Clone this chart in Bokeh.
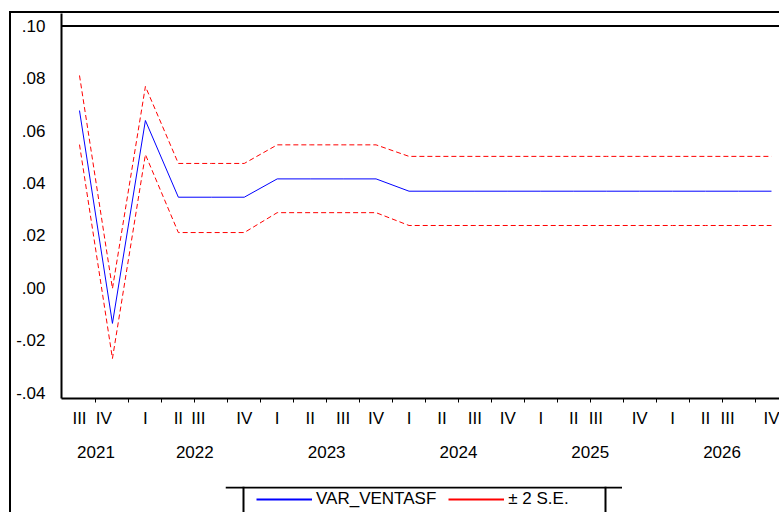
import numpy as np
from bokeh.plotting import figure
from bokeh.layouts import column
from bokeh.models import (FixedTicker, CustomJSTickFormatter, LinearAxis, Span,
                          Legend, LegendItem, ColumnDataSource, Range1d)
from bokeh.embed import file_html
from bokeh.resources import INLINE

# ---------------- data ----------------
years = ["2021", "2021",
         "2022", "2022", "2022", "2022",
         "2023", "2023", "2023", "2023",
         "2024", "2024", "2024", "2024",
         "2025", "2025", "2025", "2025",
         "2026", "2026", "2026", "2026"]
quarters = ["III", "IV",
            "I", "II", "III", "IV",
            "I", "II", "III", "IV",
            "I", "II", "III", "IV",
            "I", "II", "III", "IV",
            "I", "II", "III", "IV"]
forecast = [0.0677, -0.0136, 0.0639, 0.0346, 0.0346, 0.0346,
            0.0416, 0.0416, 0.0416, 0.0416,
            0.0369, 0.0369, 0.0369, 0.0369, 0.0369, 0.0369,
            0.0369, 0.0369, 0.0369, 0.0369, 0.0369, 0.0369]
upper = [0.0811, -0.0003, 0.0769, 0.0475, 0.0475, 0.0475,
         0.0546, 0.0546, 0.0546, 0.0546,
         0.0502, 0.0502, 0.0502, 0.0502, 0.0502, 0.0502,
         0.0502, 0.0502, 0.0502, 0.0502, 0.0502, 0.0502]
lower = [0.0547, -0.0270, 0.0509, 0.0211, 0.0211, 0.0211,
         0.0287, 0.0287, 0.0287, 0.0287,
         0.0238, 0.0238, 0.0238, 0.0238, 0.0238, 0.0238,
         0.0238, 0.0238, 0.0238, 0.0238, 0.0238, 0.0238]
y_ticks = [-0.04, -0.02, 0.00, 0.02, 0.04, 0.06, 0.08, 0.10]
series_names = ["VAR_VENTASF", "± 2 S.E."]

# ---------------- layout helpers ----------------
FONT = "Liberation Sans"
FS = "17px"
x = list(range(len(quarters)))
label_nudge = {1: -0.26, 4: -0.39, 16: -0.33, 20: -0.33}
q_pos = [i + label_nudge.get(i, 0.0) for i in x]
uniq_years = []
for yv in years:
    if yv not in uniq_years:
        uniq_years.append(yv)
year_pos = [sum(i for i in x if years[i] == yv) / years.count(yv) for yv in uniq_years]
minor_ticks = [i + 0.5 for i in x[:-1]]

# ---------------- main chart ----------------
p = figure(width=768, height=473, output_backend="svg", toolbar_location=None,
           x_range=Range1d(-0.5462, 21.243), y_range=Range1d(-0.042284, 0.104775),
           min_border_left=50, min_border_right=0, min_border_top=0, min_border_bottom=88,
           x_axis_location=None, y_axis_location=None)
p.xgrid.visible = False
p.ygrid.visible = False
p.outline_line_color = None
p.background_fill_color = "white"
p.border_fill_color = "white"

yax = LinearAxis(ticker=FixedTicker(ticks=y_ticks),
                 formatter=CustomJSTickFormatter(code="return tick.toFixed(2).replace('0.', '.');"))
yax.axis_line_width = 2
yax.axis_line_color = "black"
yax.major_tick_out = 0
yax.major_tick_in = 0
yax.minor_tick_out = 0
yax.minor_tick_in = 0
yax.major_label_standoff = 16
yax.major_label_text_font = FONT
yax.major_label_text_font_size = FS
yax.major_label_text_color = "black"
p.add_layout(yax, "left")

ax2 = LinearAxis(ticker=FixedTicker(ticks=q_pos, minor_ticks=minor_ticks),
                 formatter=CustomJSTickFormatter(args=dict(labels=quarters),
                                                 code="return labels[index];"))
ax2.axis_line_width = 2
ax2.axis_line_color = "black"
ax2.major_tick_line_color = None
ax2.major_tick_out = 4
ax2.major_tick_in = 0
ax2.minor_tick_out = 4
ax2.minor_tick_in = 0
ax2.minor_tick_line_color = "black"
ax2.minor_tick_line_width = 1
ax2.major_label_standoff = 6
ax2.major_label_text_font = FONT
ax2.major_label_text_font_size = FS
ax2.major_label_text_color = "black"
p.add_layout(ax2, "below")

ax3 = LinearAxis(ticker=FixedTicker(ticks=year_pos),
                 formatter=CustomJSTickFormatter(args=dict(labels=uniq_years),
                                                 code="return labels[index];"))
ax3.axis_line_color = None
ax3.major_tick_line_color = None
ax3.minor_tick_line_color = None
ax3.major_tick_out = 0
ax3.major_tick_in = 0
ax3.major_label_standoff = 15
ax3.major_label_text_font = FONT
ax3.major_label_text_font_size = FS
ax3.major_label_text_color = "black"
p.add_layout(ax3, "below")

p.add_layout(Span(location=y_ticks[-1], dimension="width", line_color="black", line_width=2))

src = ColumnDataSource(dict(x=x, forecast=forecast, upper=upper, lower=lower))
p.line("x", "upper", source=src, line_color="#FF0000", line_width=1, line_dash="5 3")
p.line("x", "lower", source=src, line_color="#FF0000", line_width=1, line_dash="5 3")
p.line("x", "forecast", source=src, line_color="#0000FF", line_width=1)

# ---------------- legend strip (own small figure, pixel units) ----------------
# the column aligns frame borders with the main chart (left border 50 px)
p2 = figure(width=447, height=26, output_backend="svg", toolbar_location=None,
            x_range=Range1d(0, 397), y_range=Range1d(26, 0),
            min_border_left=50, min_border_right=0, min_border_top=0, min_border_bottom=0,
            x_axis_location=None, y_axis_location=None)
p2.xgrid.visible = False
p2.ygrid.visible = False
p2.outline_line_color = None
p2.background_fill_color = "white"
p2.border_fill_color = "white"
p2.styles = {"margin-left": "164px"}
p2.add_layout(Span(location=1, dimension="width", line_color="black", line_width=2))
p2.add_layout(Span(location=18, dimension="height", line_color="black", line_width=2))
p2.add_layout(Span(location=380, dimension="height", line_color="black", line_width=2))

nan_src = ColumnDataSource(dict(x=np.array([np.nan]), y=np.array([np.nan])))
rb = p2.line("x", "y", source=nan_src, line_color="#0000FF", line_width=2)
rr = p2.line("x", "y", source=nan_src, line_color="#FF0000", line_width=2)
legend = Legend(items=[LegendItem(label=series_names[0], renderers=[rb]),
                       LegendItem(label=series_names[1], renderers=[rr])],
                location=(31, 3), orientation="horizontal",
                glyph_width=56, glyph_height=20, label_height=20,
                label_standoff=4, spacing=12,
                padding=0, margin=0, border_line_color=None,
                background_fill_color=None,
                label_text_font=FONT, label_text_font_size=FS, label_text_color="black")
p2.add_layout(legend)

page = column(p, p2, spacing=0,
              styles={"margin-left": "9px", "margin-top": "11px",
                      "border-left": "2px solid black", "border-top": "2px solid black"})

open("out.html", "w").write(file_html(page, INLINE))
